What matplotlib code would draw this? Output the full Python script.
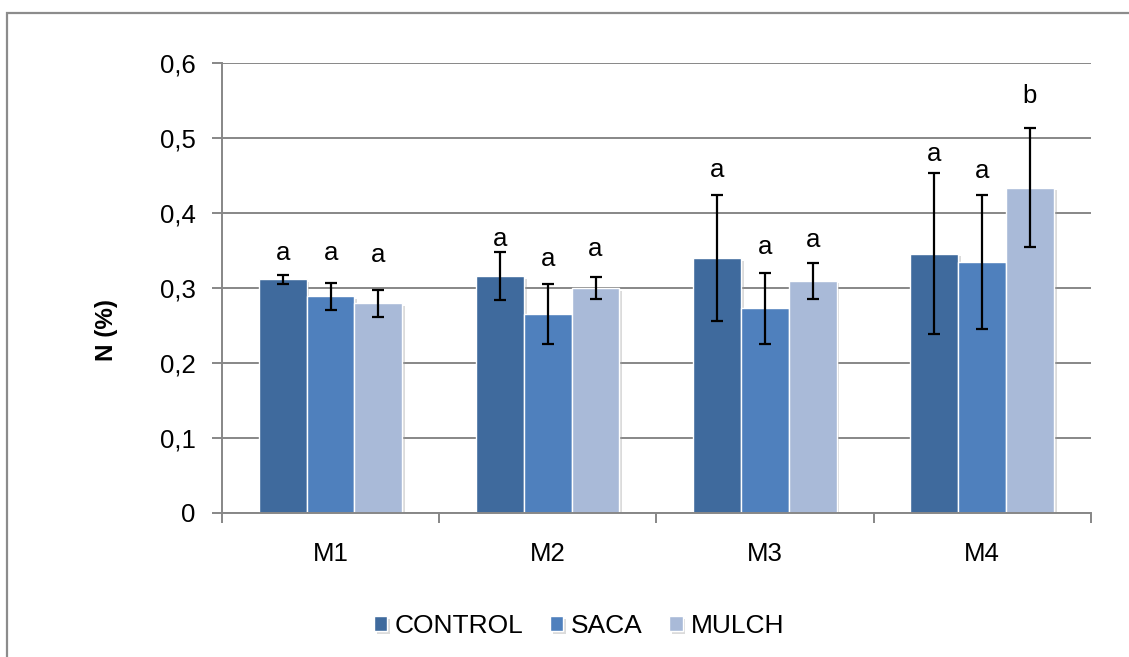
import numpy as np
import matplotlib
matplotlib.use("Agg")
import matplotlib.pyplot as plt
import matplotlib.patheffects as pe
from matplotlib.patches import Rectangle
from matplotlib.ticker import FuncFormatter, FixedLocator

plt.rcParams["font.family"] = ["Liberation Sans", "DejaVu Sans"]

# N (%) per sampling, mean and error for each treatment
SITES = ["M1", "M2", "M3", "M4"]
TREATMENTS = ["CONTROL", "SACA", "MULCH"]
N_MEAN = {
    "CONTROL": [0.312, 0.316, 0.340, 0.346],
    "SACA":    [0.289, 0.266, 0.273, 0.335],
    "MULCH":   [0.280, 0.300, 0.310, 0.434],
}
N_ERR = {
    "CONTROL": [0.006, 0.032, 0.084, 0.107],
    "SACA":    [0.018, 0.040, 0.047, 0.089],
    "MULCH":   [0.018, 0.015, 0.024, 0.079],
}
# significance letters and the height (in N %) where each one sits
LETTERS = {
    "CONTROL": ["a", "a", "a", "a"],
    "SACA":    ["a", "a", "a", "a"],
    "MULCH":   ["a", "a", "a", "b"],
}
LETTER_Y = {
    "CONTROL": [0.347, 0.365, 0.457, 0.479],
    "SACA":    [0.347, 0.339, 0.355, 0.456],
    "MULCH":   [0.344, 0.352, 0.364, 0.556],
}
COLORS = {"CONTROL": "#3f6a9d", "SACA": "#4f80bd", "MULCH": "#a9bad8"}

W, H = 1129, 657
fig = plt.figure(figsize=(W / 100, H / 100), dpi=100)
ax = fig.add_axes([222 / W, 1 - 513 / H, (1090.7 - 222) / W, (513 - 63) / H])

grid_gray = "#878787"
bar_w = 0.22
x = np.arange(len(SITES))
shadow = [pe.SimplePatchShadow(offset=(2, -2), shadow_rgbFace="#9a9a9a", alpha=0.35),
          pe.Normal()]

for k, tr in enumerate(TREATMENTS):
    xs = x + (k - 1) * bar_w
    bars = ax.bar(xs, N_MEAN[tr], width=bar_w, color=COLORS[tr],
                  edgecolor="white", linewidth=1.0, label=tr, zorder=2)
    for b in bars:
        b.set_path_effects(shadow)
    ax.errorbar(xs, N_MEAN[tr], yerr=N_ERR[tr], fmt="none", ecolor="black",
                elinewidth=1.6, capsize=4.5, capthick=1.6, zorder=3)
    for xi, lab, ly in zip(xs, LETTERS[tr], LETTER_Y[tr]):
        ax.text(xi, ly, lab, ha="center", va="center", fontsize=18.5, zorder=4)

ax.set_xlim(-0.5, len(SITES) - 0.5)
ax.set_ylim(0, 0.6)
ax.set_yticks(np.arange(0, 0.61, 0.1))
ax.yaxis.set_major_formatter(FuncFormatter(
    lambda v, _: "0" if abs(v) < 1e-9 else f"{v:.1f}".replace(".", ",")))
ax.set_xticks(x)
ax.set_xticklabels(SITES)
ax.xaxis.set_minor_locator(FixedLocator(np.arange(-0.5, len(SITES), 1.0)))

ax.tick_params(axis="x", which="major", length=0, pad=21, labelsize=18.5)
ax.tick_params(axis="x", which="minor", length=7, width=1.4, color=grid_gray,
               direction="out")
ax.tick_params(axis="y", length=7, width=1.4, color=grid_gray, pad=12,
               labelsize=18.5)

ax.yaxis.grid(True, color=grid_gray, linewidth=1.4, zorder=0)
ax.set_axisbelow(True)
for side in ("top", "right"):
    ax.spines[side].set_visible(False)
for side in ("left", "bottom"):
    ax.spines[side].set_color(grid_gray)
    ax.spines[side].set_linewidth(1.4)

fig.text(107 / W, 1 - 330 / H, "N (%)", rotation=90, ha="center", va="center",
         fontsize=17.5, fontweight="bold")

ax.legend(loc="center", bbox_to_anchor=(579 / W, 1 - 626 / H),
          bbox_transform=fig.transFigure, ncol=3, frameon=False, fontsize=19,
          handlelength=0.5, handleheight=0.5, handletextpad=0.3,
          columnspacing=1.0)

# outer chart frame
fig.patches.append(Rectangle((7 / W, -0.1), 1.2, 1 - 13 / H + 0.1,
                             transform=fig.transFigure, fill=False,
                             edgecolor="#8c8c8c", linewidth=1.6))

fig.savefig("out.png", dpi=100)
